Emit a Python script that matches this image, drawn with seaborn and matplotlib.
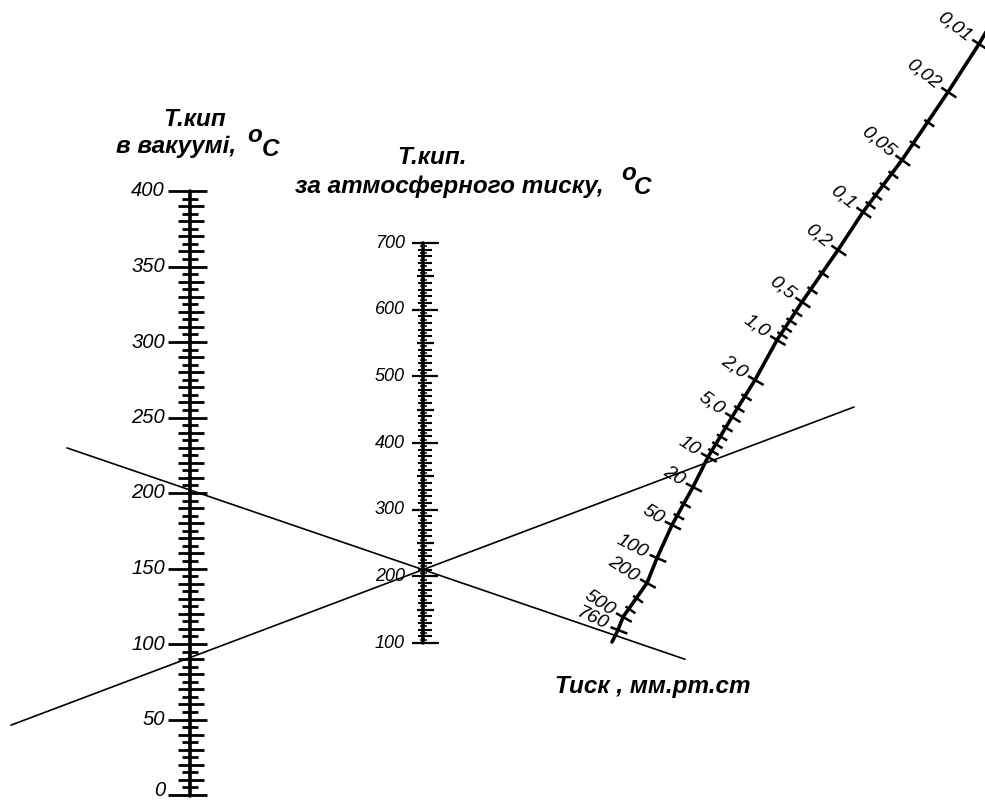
import numpy as np
import pandas as pd
import matplotlib
matplotlib.use("Agg")
import matplotlib.pyplot as plt
import seaborn as sns

# --- data -------------------------------------------------------------
# boiling point in vacuum, deg C (left scale)
vac_labels = [0, 50, 100, 150, 200, 250, 300, 350, 400]
# boiling point at atmospheric pressure, deg C (middle scale)
atm_labels = [100, 200, 300, 400, 500, 600, 700]
# pressure, mm Hg (slanted scale)
press_vals = [0.01, 0.02, 0.05, 0.1, 0.2, 0.5, 1, 2, 5, 10, 20, 50, 100, 200, 500, 760]
press_text = ["0,01", "0,02", "0,05", "0,1", "0,2", "0,5", "1,0", "2,0", "5,0",
              "10", "20", "50", "100", "200", "500", "760"]
press_minor = [0.03, 0.04, 0.06, 0.07, 0.08, 0.09, 0.3, 0.4, 0.6, 0.7, 0.8, 0.9,
               3, 4, 6, 7, 8, 9, 30, 40, 300, 400]
# the two reading lines: T in vacuum and T at atm pressure they pass through
read_vac = [202, 91]
read_atm = [210, 210]

# --- layout (pixels of the 985x801 picture) ----------------------------
VAC_X, VAC_Y0, VAC_Y400 = 190, 795, 191
ATM_X, ATM_Y100, ATM_Y700 = 423, 643, 243
# calibration of the curved pressure scale
press_x = [979, 948, 902, 863, 838, 802, 777, 755, 732, 708, 693, 672, 657, 647, 623, 618]
press_y = [44, 92, 160, 212, 250, 302, 340, 380, 417, 457, 487, 525, 558, 583, 617, 630]
read_xrange = [(67, 685), (11, 854)]


def vac_y(t):
    return VAC_Y0 + (VAC_Y400 - VAC_Y0) * np.asarray(t) / 400.0


def atm_y(t):
    return ATM_Y100 + (ATM_Y700 - ATM_Y100) * (np.asarray(t) - 100) / 600.0


px = np.array(press_x, float)
py = np.array(press_y, float)
s_cal = np.concatenate([[0], np.cumsum(np.hypot(np.diff(px), np.diff(py)))])
lp_cal = np.log10(press_vals)


def press_pos(p):
    s = np.interp(np.log10(p), lp_cal, s_cal)
    return np.interp(s, s_cal, px), np.interp(s, s_cal, py)


def press_normal(p):
    x1, y1 = press_pos(p / 1.15)
    x2, y2 = press_pos(p * 1.15)
    tx, ty = x1 - x2, y1 - y2  # pointing up the scale
    n = np.hypot(tx, ty)
    tx, ty = tx / n, ty / n
    return -ty, tx  # points to the right / down


sns.set_theme(style="white")
plt.rcParams['font.family'] = ['Liberation Sans', 'DejaVu Sans']
plt.rcParams['text.color'] = 'black'

fig = plt.figure(figsize=(9.85, 8.01), dpi=100)
ax = fig.add_axes([0, 0, 1, 1])
ax.set_facecolor("white")

# scale spines
spines = pd.DataFrame({
    "x": [VAC_X, VAC_X, ATM_X, ATM_X, 986] + list(px) + [612],
    "y": [VAC_Y0 + 1, VAC_Y400, ATM_Y100, ATM_Y700, 32] + list(py) + [642],
    "scale": ["vac", "vac", "atm", "atm"] + ["p"] * (len(px) + 2),
})
sns.lineplot(data=spines, x="x", y="y", units="scale", estimator=None, sort=False,
             color="black", lw=2.6, ax=ax)


def hline(x0, x1, y, lw):
    ax.plot([x0, x1], [y, y], color="black", lw=lw, solid_capstyle="butt")


# left scale ticks
for t in range(0, 401, 5):
    y = vac_y(t)
    if t % 50 == 0:
        hline(VAC_X - 22, VAC_X + 17, y, 2.0)
    elif t % 10 == 0:
        hline(VAC_X - 12, VAC_X + 14, y, 2.0)
    else:
        hline(VAC_X - 8, VAC_X + 8, y, 2.0)
for t in vac_labels:
    y = vac_y(t)
    va = "center"
    if t == 0:
        y, va = 800, "bottom"
    ax.text(VAC_X - 25, y, str(t), ha="right", va=va,
            fontsize=14.5, style="italic", color="black")

# middle scale ticks
for t in range(100, 701, 5):
    y = atm_y(t)
    if t in (100, 700):
        hline(ATM_X - 11, ATM_X + 16, y, 1.6)
    elif t % 100 == 0:
        hline(ATM_X - 11, ATM_X + 15, y, 1.6)
    elif t % 50 == 0:
        hline(ATM_X - 6, ATM_X + 11, y, 1.6)
    elif t % 10 == 0:
        hline(ATM_X - 5, ATM_X + 9, y, 1.5)
    else:
        hline(ATM_X - 3, ATM_X + 4, y, 1.1)
for t in atm_labels:
    ax.text(ATM_X - 18, atm_y(t), str(t), ha="right", va="center",
            fontsize=13, style="italic", color="black")

# pressure scale ticks and labels
for p, lab in zip(press_vals, press_text):
    x, y = press_pos(p)
    nx, ny = press_normal(p)
    ax.plot([x - nx * 8, x + nx * 10], [y - ny * 8, y + ny * 10], color="black",
            lw=1.8, solid_capstyle="butt")
    ang = np.degrees(np.arctan2(-ny, nx)) - 4
    ax.text(x - nx * 11, y - ny * 11, lab, ha="right", va="center", rotation=ang,
            rotation_mode="anchor", fontsize=14, style="italic", color="black")
for p in press_minor:
    x, y = press_pos(p)
    nx, ny = press_normal(p)
    ax.plot([x - nx * 4, x + nx * 8], [y - ny * 4, y + ny * 8], color="black",
            lw=1.8, solid_capstyle="butt")

# reading lines through the nomogram
rows = []
for i, (tv, ta) in enumerate(zip(read_vac, read_atm)):
    y1, y2 = float(vac_y(tv)), float(atm_y(ta))
    k = (y2 - y1) / (ATM_X - VAC_X)
    for x in read_xrange[i]:
        rows.append({"x": x, "y": y1 + k * (x - VAC_X), "line": i})
sns.lineplot(data=pd.DataFrame(rows), x="x", y="y", units="line", estimator=None,
             sort=False, color="black", lw=1.2, ax=ax)

# titles
tkw = dict(fontsize=17.5, fontweight="bold", style="italic", va="center", color="black")
ax.text(195, 120, "Т.кип", ha="center", **tkw)
ax.text(116, 147, "в вакуумі,", ha="left", **tkw)
ax.text(247, 135, "o", ha="left", **tkw)
ax.text(262, 149, "C", ha="left", **tkw)
ax.text(432, 158, "Т.кип.", ha="center", **tkw)
ax.text(295, 187, "за атмосферного тиску,", ha="left", **tkw)
ax.text(621, 173, "o", ha="left", **tkw)
ax.text(634, 188, "C", ha="left", **tkw)
ax.text(555, 686, "Тиск , мм.рт.ст", ha="left", **tkw)

ax.set_xlim(0, 985)
ax.set_ylim(801, 0)
ax.axis("off")
fig.savefig("out.png", dpi=100, facecolor="white")
